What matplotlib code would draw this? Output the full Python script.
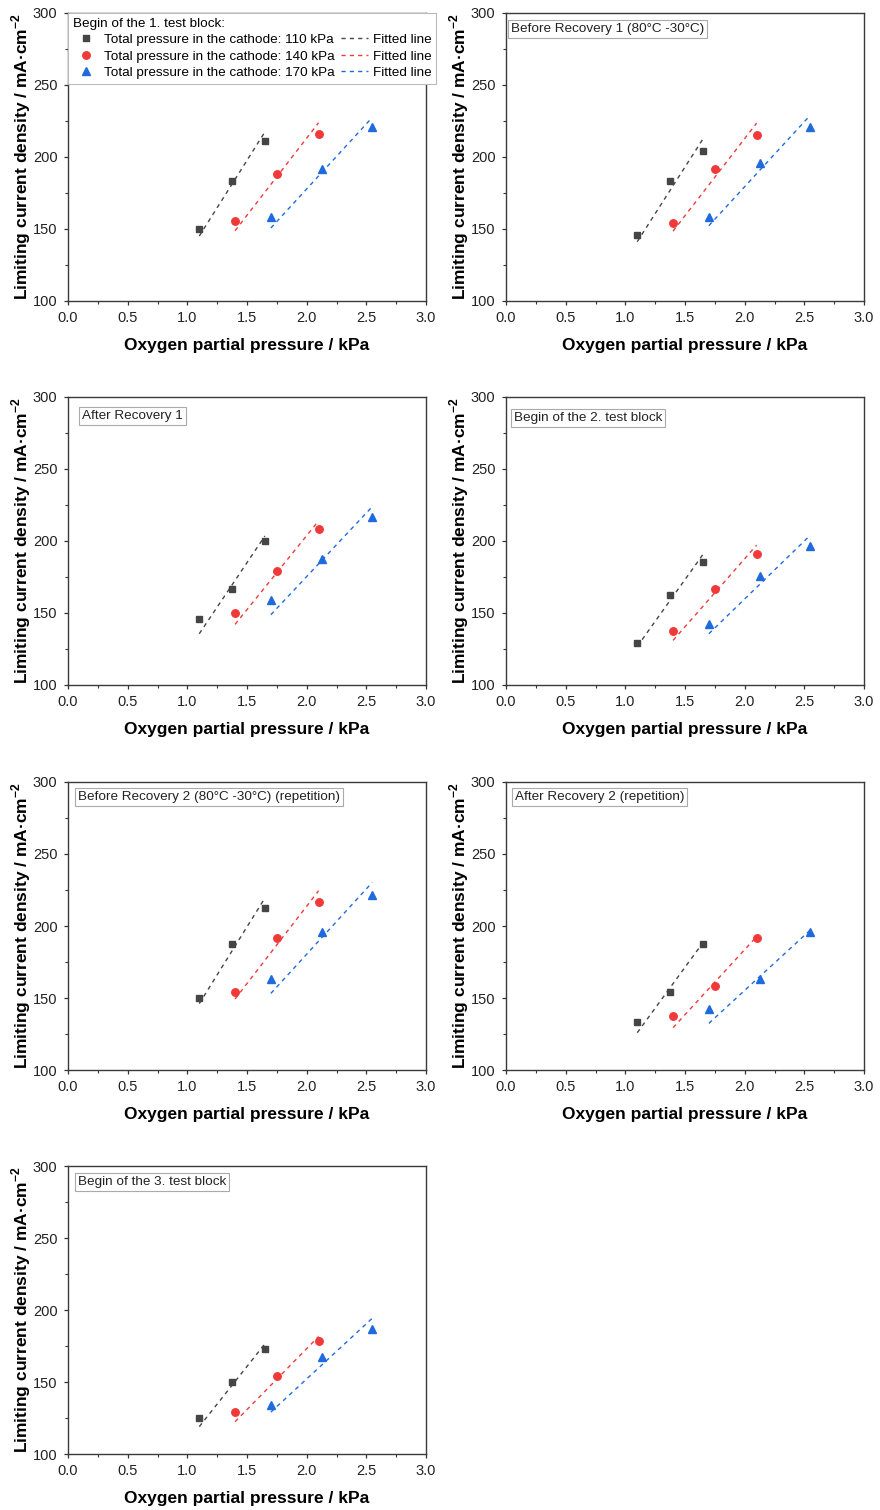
import matplotlib
matplotlib.use("Agg")
import matplotlib.pyplot as plt
from matplotlib.lines import Line2D
from matplotlib.ticker import MultipleLocator

plt.rcParams['font.family'] = ['Liberation Sans', 'DejaVu Sans']
plt.rcParams['mathtext.fontset'] = 'custom'
plt.rcParams['mathtext.rm'] = 'Liberation Sans'
plt.rcParams['mathtext.bf'] = 'Liberation Sans:bold'

# Oxygen partial pressure (kPa) for each cathode total pressure
p_110 = [1.1, 1.375, 1.65]
p_140 = [1.4, 1.75, 2.1]
p_170 = [1.7, 2.125, 2.55]

panel_titles = [
    "Begin of the 1. test block:",
    "Before Recovery 1 (80°C -30°C)",
    "After Recovery 1",
    "Begin of the 2. test block",
    "Before Recovery 2 (80°C -30°C) (repetition)",
    "After Recovery 2 (repetition)",
    "Begin of the 3. test block",
]

# Limiting current density (mA/cm2), one row per panel
j_110 = [
    [149.8, 183.1, 211.3],
    [145.5, 183.2, 204.0],
    [145.8, 166.6, 199.9],
    [129.1, 162.4, 185.5],
    [149.8, 187.5, 212.5],
    [133.1, 154.2, 187.5],
    [125.0, 150.2, 172.6],
]
j_140 = [
    [155.8, 188.0, 216.2],
    [154.3, 191.6, 215.1],
    [149.9, 179.1, 208.2],
    [137.5, 166.6, 190.9],
    [154.2, 191.7, 216.7],
    [137.5, 158.3, 191.9],
    [129.4, 154.1, 178.4],
]
j_170 = [
    [158.3, 191.7, 221.0],
    [158.4, 196.1, 221.1],
    [158.7, 187.6, 216.8],
    [142.1, 175.4, 196.2],
    [163.0, 196.1, 221.3],
    [142.1, 163.2, 195.8],
    [133.8, 167.1, 187.0],
]

# Fitted line values at the lowest and highest partial pressure of each series
fit_110 = [
    [145.1, 217.4], [141.2, 212.5], [135.6, 203.5], [126.8, 190.6],
    [146.1, 219.4], [125.9, 188.4], [119.0, 176.5],
]
fit_140 = [
    [148.8, 223.8], [148.5, 223.5], [142.1, 214.0], [131.0, 197.1],
    [149.3, 224.5], [129.4, 192.6], [122.4, 181.6],
]
fit_170 = [
    [150.7, 227.5], [152.3, 229.0], [148.8, 223.9], [135.6, 204.0],
    [153.2, 230.3], [132.4, 197.2], [129.1, 194.3],
]

pressure_labels = [
    "Total pressure in the cathode: 110 kPa",
    "Total pressure in the cathode: 140 kPa",
    "Total pressure in the cathode: 170 kPa",
]

colors = ["#454545", "#F03A3A", "#1F6BDD"]
markers = ["s", "o", "^"]
msizes = [5.0, 5.4, 5.8]
DASH = (0, (3.0, 3.0))

W, H = 880, 1510
fig = plt.figure(figsize=(W / 100, H / 100), dpi=100)

ax_w, ax_h = 358, 288
lefts = [68, 506]
tops = [13, 397, 782, 1166]

# label box offsets (px from the axes' top-left corner)
box_offsets = [None, (5, 10), (14, 13), (8, 15), (10, 9), (9, 9), (10, 10)]

TICK_FS = 10.5
LABEL_FS = 12.5
SMALL_FS = 9.7

for i in range(7):
    row, col = divmod(i, 2)
    left = lefts[col]
    top = tops[row]
    ax = fig.add_axes([left / W, 1 - (top + ax_h) / H, ax_w / W, ax_h / H])

    series = [
        (p_110, j_110[i], fit_110[i]),
        (p_140, j_140[i], fit_140[i]),
        (p_170, j_170[i], fit_170[i]),
    ]
    for k, (px, jy, fy) in enumerate(series):
        ax.plot(px, jy, linestyle="none", marker=markers[k], ms=msizes[k],
                color=colors[k], mec=colors[k], zorder=3)
        ax.plot([px[0], px[-1]], fy, linestyle=DASH, lw=1.0,
                color=colors[k], zorder=2)

    ax.set_xlim(0, 3.0)
    ax.set_ylim(100, 300)
    ax.xaxis.set_major_locator(MultipleLocator(0.5))
    ax.xaxis.set_minor_locator(MultipleLocator(0.25))
    ax.yaxis.set_major_locator(MultipleLocator(50))
    ax.yaxis.set_minor_locator(MultipleLocator(25))
    ax.xaxis.set_major_formatter(plt.FormatStrFormatter("%.1f"))
    ax.tick_params(which="major", direction="out", length=3.0, width=0.9,
                   color="#333333", labelsize=TICK_FS, pad=4.5,
                   labelcolor="#222222")
    ax.tick_params(which="minor", direction="out", length=2.0, width=0.8,
                   color="#333333")
    ax.tick_params(top=False, right=False, which="both")
    for sp in ax.spines.values():
        sp.set_color("#3a3a3a")
        sp.set_linewidth(1.0)

    ax.set_xlabel("Oxygen partial pressure / kPa", fontsize=LABEL_FS,
                  fontweight="bold", labelpad=9)
    ax.set_ylabel(r"Limiting current density / mA·cm$^{\mathbf{-2}}$",
                  fontsize=LABEL_FS, fontweight="bold", labelpad=0)

    if i == 0:
        handles = []
        labels = []
        for k in range(3):
            handles.append(Line2D([], [], linestyle="none", marker=markers[k],
                                  ms=msizes[k], color=colors[k]))
            labels.append(pressure_labels[k])
        for k in range(3):
            handles.append(Line2D([], [], linestyle=DASH, lw=1.0,
                                  color=colors[k]))
            labels.append("Fitted line")
        leg = ax.legend(handles, labels, ncol=2, loc="upper left",
                        bbox_to_anchor=(0.0, 1.0), borderaxespad=0.0,
                        title=panel_titles[0], title_fontsize=SMALL_FS,
                        fontsize=SMALL_FS, frameon=True, fancybox=False,
                        edgecolor="#bbbbbb", framealpha=1.0,
                        handlelength=2.0, handletextpad=0.35,
                        columnspacing=0.45, labelspacing=0.3,
                        borderpad=0.34, alignment="left")
        leg.get_frame().set_linewidth(0.8)
        leg.set_zorder(5)
    else:
        dx, dy = box_offsets[i]
        ax.text(dx / ax_w, 1 - dy / ax_h, panel_titles[i],
                transform=ax.transAxes, ha="left", va="top",
                fontsize=SMALL_FS, color="#222222",
                bbox=dict(boxstyle="square,pad=0.22", fc="white",
                          ec="#aaaaaa", lw=0.8))

fig.savefig("out.png", dpi=100)
